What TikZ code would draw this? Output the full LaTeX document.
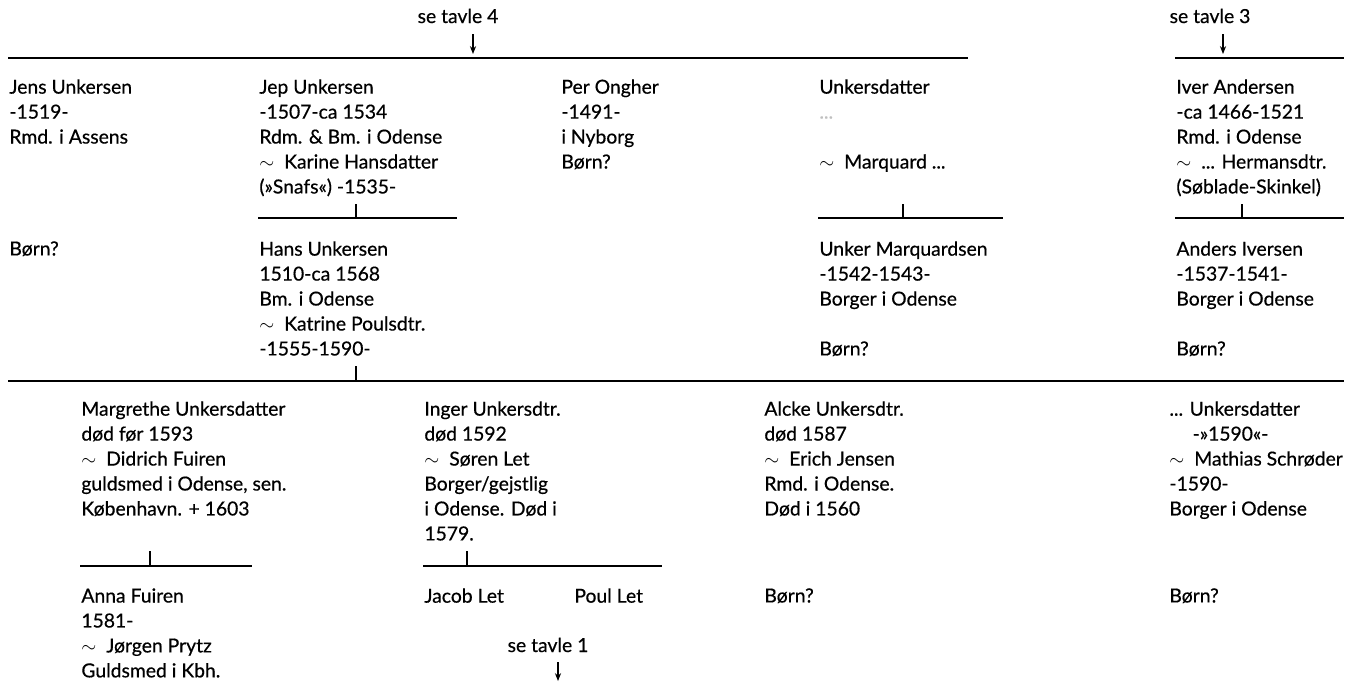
\documentclass[tikz,border=0pt]{standalone}
\usepackage{fontspec}
\setmainfont{Lato}[FakeBold=0.5]
\usetikzlibrary{arrows.meta}

\begin{document}
\begin{tikzpicture}[
    x = 0.02cm, % one unit per pixel
    y = -0.02cm, % y counts downwards
    line width = 1.6pt, % bar style
    font = \fontsize{11}{14.2}\selectfont
  ]

  \tikzstyle{person}=[anchor=north west,align=left,inner sep=0pt]
  \tikzstyle{tick}=[line width=1.3pt]
  \tikzstyle{seetable}=[anchor=base,inner sep=0pt]
  \tikzstyle{pointer}=[line width=0.7pt,-{Stealth[length=4.5pt,width=3.5pt]}]

  \useasboundingbox (0,0) rectangle (1354,681);

  % references to other tables
  \node[seetable] (tavle4) at (458,23) {se tavle 4};
  \node[seetable] (tavle3) at (1210,23) {se tavle 3};
  \node[seetable] (tavle1) at (548,652) {se tavle 1};
  \coordinate (tavle4 a) at (473,34);
  \coordinate (tavle4 b) at (473,54);
  \coordinate (tavle3 a) at (1223,34);
  \coordinate (tavle3 b) at (1223,54);
  \coordinate (tavle1 a) at (558,662);
  \coordinate (tavle1 b) at (558,681);
  \draw[pointer] (tavle4 a) -- (tavle4 b);
  \draw[pointer] (tavle3 a) -- (tavle3 b);
  \draw[pointer] (tavle1 a) -- (tavle1 b);

  % first generation
  \coordinate (top1 L) at (8,58);
  \coordinate (top1 R) at (968,58);
  \coordinate (top2 L) at (1175,58);
  \coordinate (top2 R) at (1344,58);
  \draw (top1 L) -- (top1 R);
  \draw (top2 L) -- (top2 R);

  \node[person] (jens) at (8,78) {Jens Unkersen\\-1519-\\Rmd. i Assens};
  \node[person] (jep) at (258,78) {Jep Unkersen\\-1507-ca 1534\\Rdm. \& Bm. i Odense\\$\sim$\ \ Karine Hansdatter\\(»Snafs«) -1535-};
  \node[person] (per) at (560,78) {Per Ongher\\-1491-\\i Nyborg\\Børn?};
  \node[person] (udatter) at (818,78) {Unkersdatter\\{\color{black!25}...}\\\mbox{}\\$\sim$\ \ Marquard ...};
  \node[person] (iver) at (1175,78) {Iver Andersen\\-ca 1466-1521\\Rmd. i Odense\\$\sim$\ \ ... Hermansdtr.\\(Søblade-Skinkel)};

  % second generation
  \coordinate (jep bar L) at (258,218);
  \coordinate (jep bar R) at (457,218);
  \coordinate (jep bar) at (356,218);
  \coordinate (jep tick) at (356,204);
  \draw (jep bar L) -- (jep bar R);
  \draw[tick] (jep tick) -- (jep bar);

  \coordinate (ud bar L) at (818,218);
  \coordinate (ud bar R) at (1003,218);
  \coordinate (ud bar) at (903,218);
  \coordinate (ud tick) at (903,204);
  \draw (ud bar L) -- (ud bar R);
  \draw[tick] (ud tick) -- (ud bar);

  \coordinate (iver bar L) at (1175,218);
  \coordinate (iver bar R) at (1344,218);
  \coordinate (iver bar) at (1242,218);
  \coordinate (iver tick) at (1242,204);
  \draw (iver bar L) -- (iver bar R);
  \draw[tick] (iver tick) -- (iver bar);

  \node[person] (jens born) at (8,240) {Børn?};
  \node[person] (hans) at (258,240) {Hans Unkersen\\1510-ca 1568\\Bm. i Odense\\$\sim$\ \ Katrine Poulsdtr.\\-1555-1590-};
  \node[person] (unker) at (818,240) {Unker Marquardsen\\-1542-1543-\\Borger i Odense\\\mbox{}\\Børn?};
  \node[person] (anders) at (1175,240) {Anders Iversen\\-1537-1541-\\Borger i Odense\\\mbox{}\\Børn?};

  % third generation
  \coordinate (hans bar L) at (8,381);
  \coordinate (hans bar R) at (1344,381);
  \coordinate (hans bar) at (356,381);
  \coordinate (hans tick) at (356,366);
  \draw (hans bar L) -- (hans bar R);
  \draw[tick] (hans tick) -- (hans bar);

  \node[person] (margrethe) at (80,400) {Margrethe Unkersdatter\\død før 1593\\$\sim$\ \ Didrich Fuiren\\guldsmed i Odense, sen.\\København. + 1603};
  \node[person] (inger) at (423,400) {Inger Unkersdtr.\\død 1592\\$\sim$\ \ Søren Let\\Borger/gejstlig\\i Odense. Død i\\1579.};
  \node[person] (alcke) at (763,400) {Alcke Unkersdtr.\\død 1587\\$\sim$\ \ Erich Jensen\\Rmd. i Odense.\\Død i 1560};
  \node[person] (udatter2) at (1168,400) {... Unkersdatter\\\hspace{1.2em}-»1590«-\\$\sim$\ \ Mathias Schrøder\\-1590-\\Borger i Odense};

  % fourth generation
  \coordinate (marg bar L) at (80,566);
  \coordinate (marg bar R) at (252,566);
  \coordinate (marg bar) at (150,566);
  \coordinate (marg tick) at (150,551);
  \draw (marg bar L) -- (marg bar R);
  \draw[tick] (marg tick) -- (marg bar);

  \coordinate (inger bar L) at (423,566);
  \coordinate (inger bar R) at (662,566);
  \coordinate (inger bar) at (467,566);
  \coordinate (inger tick) at (467,551);
  \draw (inger bar L) -- (inger bar R);
  \draw[tick] (inger tick) -- (inger bar);

  \node[person] (anna) at (80,587) {Anna Fuiren\\1581-\\$\sim$\ \ Jørgen Prytz\\Guldsmed i Kbh.};
  \node[person] (jacob) at (423,587) {Jacob Let};
  \node[person] (poul) at (573,587) {Poul Let};
  \node[person] (alcke born) at (763,587) {Børn?};
  \node[person] (udatter2 born) at (1168,587) {Børn?};

\end{tikzpicture}
\end{document}
